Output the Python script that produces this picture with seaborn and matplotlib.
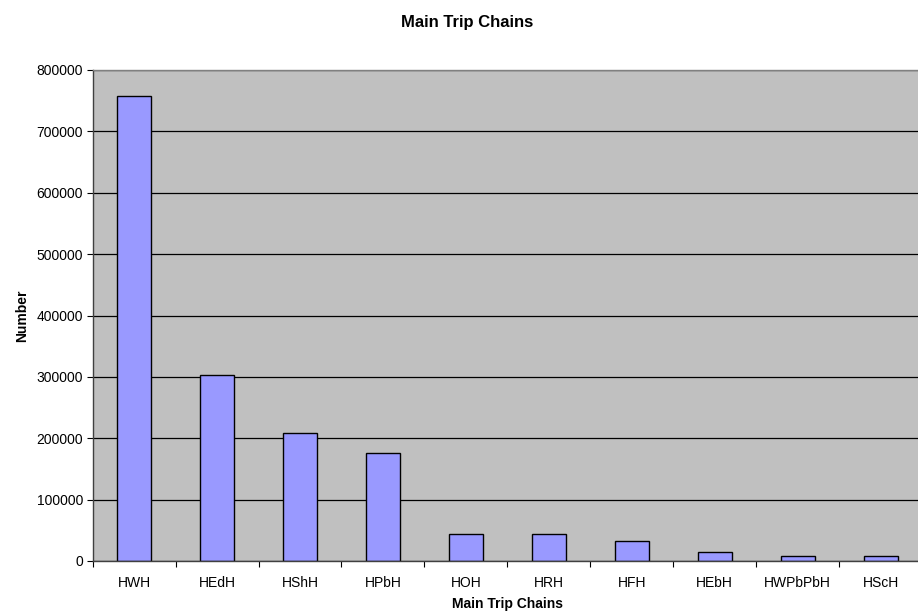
import matplotlib
matplotlib.use("Agg")
import matplotlib.pyplot as plt
import seaborn as sns
import pandas as pd
import numpy as np

categories = ["HWH", "HEdH", "HShH", "HPbH", "HOH", "HRH", "HFH", "HEbH", "HWPbPbH", "HScH"]
values = [758000, 303500, 208500, 175800, 44800, 44500, 32000, 15300, 8800, 8800]
yticks = [0, 100000, 200000, 300000, 400000, 500000, 600000, 700000, 800000]

sns.set_style("white")
plt.rcParams['font.family'] = ['Liberation Sans', 'DejaVu Sans']
plt.rcParams['text.color'] = 'black'
plt.rcParams['axes.labelcolor'] = 'black'
plt.rcParams['xtick.color'] = 'black'
plt.rcParams['ytick.color'] = 'black'

df = pd.DataFrame({"chain": categories, "count": values})

W, H = 918, 613
left_px, right_px, top_px, bot_px = 92.7, 922, 70, 561
fig = plt.figure(figsize=(W/100, H/100), dpi=100)
ax = fig.add_axes([left_px/W, 1-bot_px/H, (right_px-left_px)/W, (bot_px-top_px)/H])
ax.set_facecolor("#C0C0C0")
ax.set_axisbelow(True)

sns.barplot(data=df, x="chain", y="count", ax=ax, color="#9999FF",
            edgecolor="black", linewidth=1.0, width=0.41, saturation=1)

ax.set_ylim(0, 800000)
ax.set_xlim(-0.5, len(categories)-0.5)
ax.set_yticks(yticks)
ax.set_yticklabels([str(v) for v in yticks], fontsize=10)
ax.yaxis.grid(True, color="black", linewidth=0.9)
ax.tick_params(axis="y", direction="out", length=4, width=0.8, color="black", left=True, pad=3)
ax.tick_params(axis="x", which="major", length=0, labelsize=10, pad=11)
ax.set_xticks(np.arange(-0.5, len(categories)), minor=True)
ax.tick_params(axis="x", which="minor", direction="out", length=4, width=0.8, color="black", bottom=True)

ax.spines["top"].set_color("#808080")
ax.spines["top"].set_linewidth(1.0)
ax.spines["right"].set_visible(False)
for s in ["left", "bottom"]:
    ax.spines[s].set_color("#404040")
    ax.spines[s].set_linewidth(1.0)

ax.set_xlabel("Main Trip Chains", fontsize=10, fontweight="bold")
ax.set_ylabel("Number", fontsize=10, fontweight="bold")
ax.xaxis.set_label_coords(0.5, (bot_px-597)/(bot_px-top_px))
ax.yaxis.set_label_coords((29-left_px)/(right_px-left_px), 0.5)
fig.text(467/W, 1-22/H, "Main Trip Chains", ha="center", va="center",
         fontsize=12, fontweight="bold", color="black")

fig.savefig("out.png", dpi=100)
